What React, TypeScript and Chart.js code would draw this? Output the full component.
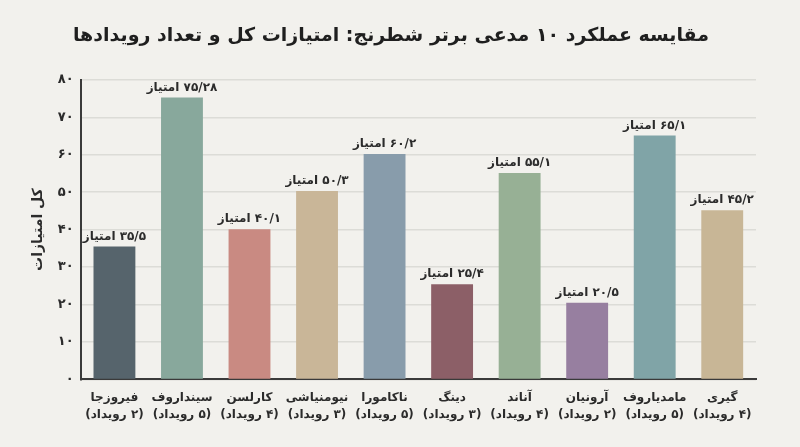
import { useEffect, useRef } from 'react'
import { Chart, registerables } from 'chart.js'

Chart.register(...registerables)

const players = ['فیروزجا', 'سینداروف', 'کارلسن', 'نیومنیاشی', 'ناکامورا', 'دینگ', 'آناند', 'آرونیان', 'مامدیاروف', 'گیری']
const events = [2, 5, 4, 3, 5, 3, 4, 2, 5, 4]
const points = [35.5, 75.28, 40.1, 50.3, 60.2, 25.4, 55.1, 20.5, 65.1, 45.2]
const barColors = ['#56646c', '#88a89c', '#c98a82', '#c9b698', '#889cab', '#8c5f67', '#97b095', '#977fa0', '#80a4a7', '#c8b696']

const title = 'مقایسه عملکرد ۱۰ مدعی برتر شطرنج: امتیازات کل و تعداد رویدادها'
const yTitle = 'کل امتیازات'
const unit = 'امتیاز'

const FONT = "'DejaVu Sans', sans-serif"

const toFa = (s: string | number) => String(s).replace(/\d/g, d => '۰۱۲۳۴۵۶۷۸۹'[+d])

const labelPlugin = {
  id: 'barValues',
  afterDatasetsDraw(chart: Chart) {
    const ctx = chart.ctx
    const meta = chart.getDatasetMeta(0)
    ctx.save()
    ctx.direction = 'rtl'
    ctx.font = `bold 12px ${FONT}`
    ctx.fillStyle = '#2b2b2b'
    ctx.textAlign = 'center'
    ctx.textBaseline = 'bottom'
    meta.data.forEach((bar, i) => {
      const txt = `${toFa(String(points[i]).replace('.', '/'))} ${unit}`
      ctx.fillText(txt, bar.x, bar.y - 4)
    })
    ctx.restore()
  },
}

export default function App() {
  const canvasRef = useRef<HTMLCanvasElement>(null)
  const chartRef = useRef<Chart | null>(null)

  useEffect(() => {
    document.body.style.margin = '0'
    if (!canvasRef.current) return
    chartRef.current?.destroy()
    chartRef.current = new Chart(canvasRef.current, {
      type: 'bar',
      data: {
        labels: players.map((p, i) => [p, `(${toFa(events[i])} رویداد)`]),
        datasets: [{
          data: points,
          backgroundColor: barColors,
          borderWidth: 0,
          barPercentage: 0.62,
          categoryPercentage: 1,
        }],
      },
      options: {
        responsive: true,
        maintainAspectRatio: false,
        animation: false,
        layout: { padding: { left: 26, right: 44, top: 0, bottom: 22 } },
        plugins: {
          legend: { display: false },
          tooltip: { enabled: false },
          title: {
            display: true,
            text: title,
            color: '#1f1f1f',
            font: { family: FONT, size: 19, weight: 'bold' },
            padding: { top: 25, bottom: 32 },
          },
        },
        scales: {
          x: {
            grid: { display: false },
            border: { display: true, color: '#3a3a3a', width: 2 },
            ticks: { color: '#2b2b2b', font: { family: FONT, size: 12, weight: 'bold', lineHeight: 1.4 }, padding: 2, maxRotation: 0 },
          },
          y: {
            min: 0,
            max: 80,
            ticks: { stepSize: 10, color: '#2b2b2b', font: { family: FONT, size: 13, weight: 'bold' }, padding: 7, callback: v => toFa(v) },
            grid: { color: '#dcdcd7', lineWidth: 1.5, drawTicks: false },
            border: { display: true, color: '#3a3a3a', width: 2 },
            title: { display: true, text: yTitle, color: '#2b2b2b', font: { family: FONT, size: 14, weight: 'bold' }, padding: 4 },
          },
        },
      },
      plugins: [labelPlugin],
    })
    return () => chartRef.current?.destroy()
  }, [])

  return (
    <div style={{ width: 800, height: 447, background: '#f2f1ed' }}>
      <canvas ref={canvasRef} dir="rtl" />
    </div>
  )
}
